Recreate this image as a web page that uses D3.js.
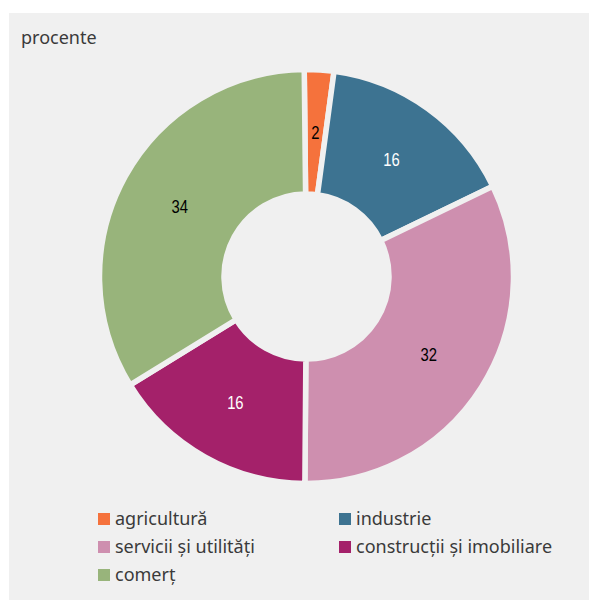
<!DOCTYPE html>
<html>
<head>
<meta charset="utf-8">
<script src="https://cdn.jsdelivr.net/npm/d3@7"></script>
<style>
  body { margin: 0; background: #ffffff; }
  #chart { width: 589px; height: 600px; }
</style>
</head>
<body>
<div id="chart"></div>
<script>
// sector shares, in percent (labels are rounded)
const categories = ["agricultură", "industrie", "servicii și utilități", "construcții și imobiliare", "comerț"];
const values = [2.3, 15.7, 32.3, 16.1, 33.6];
const colors = ["#f5723c", "#3d7391", "#ce8faf", "#a4216a", "#98b47b"];
const labelColors = ["#000000", "#ffffff", "#000000", "#ffffff", "#000000"];
const unitLabel = "procente";

const width = 589;
const height = 600;
const bg = "#f0f0f0";

const svg = d3
  .select("#chart")
  .append("svg")
  .attr("width", width)
  .attr("height", height);

// gray panel
svg
  .append("rect")
  .attr("x", 9)
  .attr("y", 13)
  .attr("width", width - 9)
  .attr("height", height - 13)
  .attr("fill", bg);

svg
  .append("text")
  .attr("x", 21)
  .attr("y", 44)
  .style("font-family", "'Noto Sans', 'Open Sans', sans-serif")
  .style("font-size", "18px")
  .attr("fill", "#3a3a3a")
  .text(unitLabel);

// donut
const cx = 306.5;
const cy = 276.5;
const outerR = 207;
const innerR = 82.5;
const rot = -0.011; // first slice starts just left of 12 o'clock

const pie = d3
  .pie()
  .sort(null)
  .startAngle(rot)
  .endAngle(2 * Math.PI + rot)
  .value((d) => d);
const arcs = pie(values);
const arc = d3.arc().innerRadius(innerR).outerRadius(outerR);

const g = svg.append("g").attr("transform", "translate(" + cx + "," + cy + ")");

g.selectAll("path")
  .data(arcs)
  .enter()
  .append("path")
  .attr("d", arc)
  .attr("fill", (d, i) => colors[i])
  .attr("stroke", bg)
  .attr("stroke-width", 5.5)
  .attr("stroke-linejoin", "miter");

// value labels, condensed look
g.selectAll("text.val")
  .data(arcs)
  .enter()
  .append("text")
  .attr("class", "val")
  .attr("transform", (d) => "translate(" + arc.centroid(d) + ") scale(0.78,1)")
  .attr("text-anchor", "middle")
  .attr("dy", "0.36em")
  .style("font-family", "'Liberation Sans', Arial, sans-serif")
  .style("font-size", "19px")
  .attr("fill", (d, i) => labelColors[i])
  .text((d) => d3.format(".0f")(d.data));

// legend, two columns
const legX = [98, 339];
const legY0 = 513;
const rowH = 28;

const leg = svg
  .selectAll("g.leg")
  .data(categories)
  .enter()
  .append("g")
  .attr("class", "leg")
  .attr("transform", (d, i) => "translate(" + legX[i % 2] + "," + (legY0 + Math.floor(i / 2) * rowH) + ")");

leg
  .append("rect")
  .attr("width", 12)
  .attr("height", 12)
  .attr("fill", (d, i) => colors[i]);

leg
  .append("text")
  .attr("x", 17)
  .attr("y", 12)
  .style("font-family", "'Noto Sans', 'Open Sans', sans-serif")
  .style("font-size", "18px")
  .attr("fill", "#3a3a3a")
  .text((d) => d);
</script>
</body>
</html>
